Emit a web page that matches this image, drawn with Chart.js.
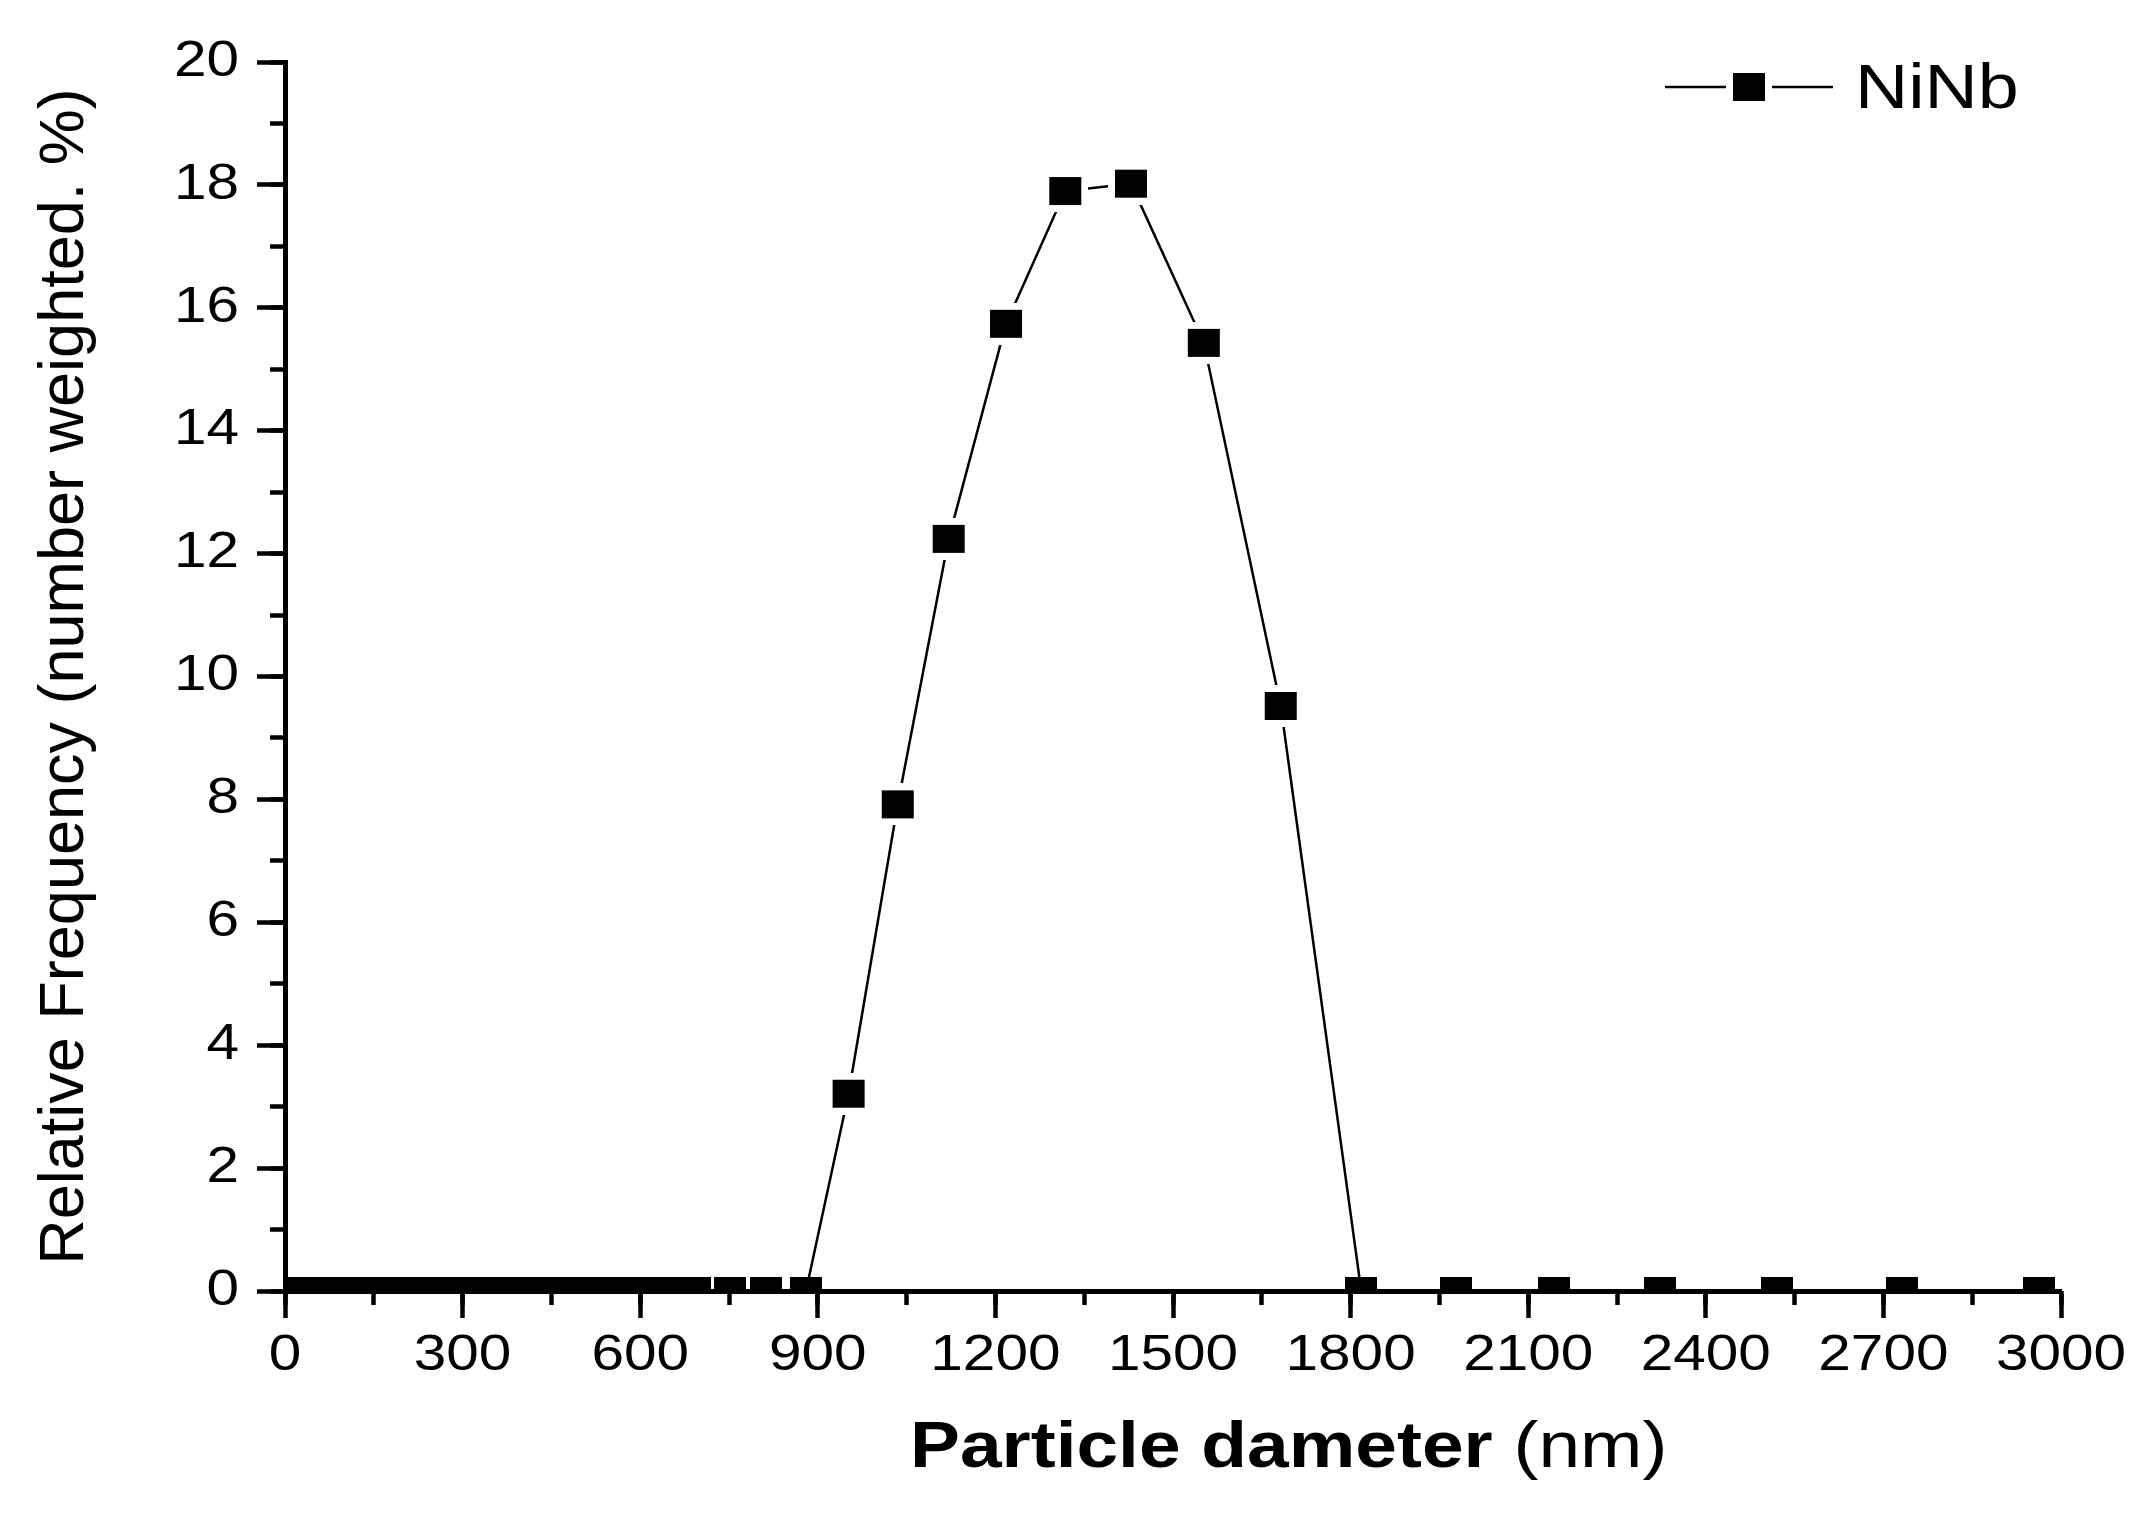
<!DOCTYPE html>
<html>
<head>
<meta charset="utf-8">
<script src="https://cdn.jsdelivr.net/npm/chart.js@4.4.0/dist/chart.umd.min.js"></script>
<style>
html, body { margin: 0; padding: 0; background: #ffffff; }
#wrap { width: 2148px; height: 1519px; }
</style>
</head>
<body>
<div id="wrap"><canvas id="c" width="2148" height="1519"></canvas></div>
<script>
// ---------------- data ----------------
const diameters = [20, 22, 24, 26, 28, 30, 32, 35, 38, 41,
                   45, 49, 53, 57, 62, 67, 73, 79, 85, 92,
                   100, 109, 118, 128, 138, 150, 163, 176, 191, 207,
                   225, 244, 264, 286, 310, 336, 364, 395, 428, 464,
                   503, 545, 590, 640, 693, 751, 813, 880,
                   952, 1035, 1121, 1218, 1318, 1429, 1552, 1682,
                   1818, 1978, 2143, 2323, 2520, 2731, 2963];
const frequency = [0, 0, 0, 0, 0, 0, 0, 0, 0, 0,
                   0, 0, 0, 0, 0, 0, 0, 0, 0, 0,
                   0, 0, 0, 0, 0, 0, 0, 0, 0, 0,
                   0, 0, 0, 0, 0, 0, 0, 0, 0, 0,
                   0, 0, 0, 0, 0, 0, 0, 0,
                   3.21, 7.92, 12.24, 15.74, 17.90, 18.02, 15.43, 9.52,
                   0, 0, 0, 0, 0, 0, 0];
const xTickValues = [0, 300, 600, 900, 1200, 1500, 1800, 2100, 2400, 2700, 3000];
const yTickValues = [0, 2, 4, 6, 8, 10, 12, 14, 16, 18, 20];
const seriesName = 'NiNb';
const xTitleBold = 'Particle dameter ';
const xTitleRegular = '(nm)';
const yTitleText = 'Relative Frequency (number weighted. %)';

// ---------------- styling helpers ----------------
const FONT = '"Liberation Sans", Arial, sans-serif';
const TEXT_STRETCH = 1.17;

function makeMarker(w, h, halo) {
  const c = document.createElement('canvas');
  c.width = w + 2 * halo;
  c.height = h + 2 * halo;
  const g = c.getContext('2d');
  if (halo) { g.fillStyle = '#ffffff'; g.fillRect(0, 0, c.width, c.height); }
  g.fillStyle = '#000000';
  g.fillRect(halo, halo, w, h);
  return c;
}
const markerPlain = makeMarker(32, 28, 0);
const markerHalo = makeMarker(32, 28, 7);

const stretchPlugin = {
  id: 'stretchText',
  beforeInit(chart) {
    const ctx = chart.ctx;
    const base = CanvasRenderingContext2D.prototype.fillText;
    ctx.fillText = function (text, x, y, maxWidth) {
      const m = this.getTransform();
      if (Math.abs(m.b) < 1e-6 && Math.abs(m.c) < 1e-6) {
        this.save();
        this.translate(x, y);
        this.scale(TEXT_STRETCH, 1);
        base.call(this, text, 0, 0);
        this.restore();
      } else if (maxWidth === undefined) {
        base.call(this, text, x, y);
      } else {
        base.call(this, text, x, y, maxWidth);
      }
    };
  }
};

const decorPlugin = {
  id: 'decor',
  afterDraw(chart) {
    const ctx = chart.ctx;
    const ca = chart.chartArea;
    // x axis title (bold + regular)
    ctx.save();
    ctx.fillStyle = '#000';
    ctx.textAlign = 'left';
    ctx.textBaseline = 'alphabetic';
    const tx = ca.left + 625;
    const ty = ca.bottom + 176;
    ctx.font = 'bold 64px ' + FONT;
    const wBold = ctx.measureText(xTitleBold).width * TEXT_STRETCH;
    ctx.fillText(xTitleBold, tx, ty);
    ctx.font = '64px ' + FONT;
    ctx.fillText(xTitleRegular, tx + wBold, ty);
    ctx.restore();

    // legend: line - marker - line, then label
    ctx.save();
    const ly = ca.top + 25;
    const lx0 = ca.right - 396;
    const lx1 = ca.right - 228;
    const lxm = (lx0 + lx1) / 2;
    ctx.strokeStyle = '#000';
    ctx.lineWidth = 2.5;
    ctx.beginPath();
    ctx.moveTo(lx0, ly);
    ctx.lineTo(lx1, ly);
    ctx.stroke();
    ctx.fillStyle = '#fff';
    ctx.fillRect(lxm - 23, ly - 21, 46, 42);
    ctx.drawImage(markerPlain, lxm - 16, ly - 14);
    ctx.fillStyle = '#000';
    ctx.font = '63px ' + FONT;
    ctx.textAlign = 'left';
    ctx.textBaseline = 'alphabetic';
    ctx.fillText(seriesName, ca.right - 206, ca.top + 46);
    ctx.restore();
  }
};

const points = diameters.map((d, i) => ({ x: d, y: frequency[i] }));

new Chart(document.getElementById('c'), {
  type: 'scatter',
  data: {
    datasets: [{
      label: seriesName,
      data: points,
      showLine: true,
      tension: 0,
      borderColor: '#000',
      borderWidth: 2.5,
      backgroundColor: '#000',
      pointRadius: 16,
      pointHoverRadius: 16,
      pointStyle: (c) => (c.raw && c.raw.y > 0 ? markerHalo : markerPlain),
      clip: 0,
      xAxisID: 'x',
      yAxisID: 'y'
    }]
  },
  options: {
    responsive: false,
    devicePixelRatio: 1,
    animation: false,
    events: [],
    layout: { padding: { left: 0, top: 62, right: 87, bottom: 0 } },
    plugins: { legend: { display: false }, tooltip: { enabled: false } },
    scales: {
      x: {
        type: 'linear', position: 'bottom', weight: 1, min: 0, max: 3000,
        afterBuildTicks: (s) => { s.ticks = xTickValues.map(v => ({ value: v })); },
        afterFit: (s) => { s.height = 228; },
        ticks: { color: '#000', font: { family: FONT, size: 50 }, padding: 8, maxRotation: 0, autoSkip: false,
                 callback: (v) => String(v) },
        grid: { drawOnChartArea: false, drawTicks: true, tickLength: 27, tickWidth: 4.5, tickColor: '#000' },
        border: { display: true, color: '#000', width: 5 }
      },
      xMinor: {
        type: 'linear', position: 'bottom', weight: 0, min: 0, max: 3000,
        afterFit: (s) => { s.height = 0; },
        ticks: { stepSize: 150, display: false },
        grid: { drawOnChartArea: false, drawTicks: true, tickLength: 14, tickWidth: 4.5, tickColor: '#000' },
        border: { display: false }
      },
      y: {
        type: 'linear', position: 'left', weight: 1, min: 0, max: 20,
        afterBuildTicks: (s) => { s.ticks = yTickValues.map(v => ({ value: v })); },
        afterFit: (s) => { s.width = 285; },
        ticks: { color: '#000', font: { family: FONT, size: 50 }, padding: 18, callback: (v) => String(v) },
        grid: { drawOnChartArea: false, drawTicks: true, tickLength: 28, tickWidth: 4.5, tickColor: '#000' },
        border: { display: true, color: '#000', width: 5 },
        title: { display: true, text: yTitleText, color: '#000', font: { family: FONT, size: 63 },
                 padding: { top: 28, bottom: 0 } }
      },
      yMinor: {
        type: 'linear', position: 'left', weight: 0, min: 0, max: 20,
        afterFit: (s) => { s.width = 0; },
        ticks: { stepSize: 1, display: false },
        grid: { drawOnChartArea: false, drawTicks: true, tickLength: 15, tickWidth: 4.5, tickColor: '#000' },
        border: { display: false }
      }
    }
  },
  plugins: [stretchPlugin, decorPlugin]
});
</script>
</body>
</html>
